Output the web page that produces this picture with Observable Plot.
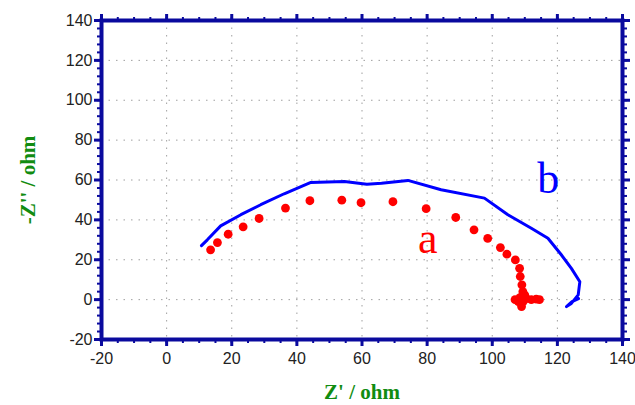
<!DOCTYPE html>
<html>
<head>
<meta charset="utf-8">
<script src="https://cdn.jsdelivr.net/npm/d3@7"></script>
<script src="https://cdn.jsdelivr.net/npm/@observablehq/plot@0.6"></script>
<style>
  html, body { margin: 0; padding: 0; background: #fff; }
</style>
</head>
<body>
<div id="chart"></div>
<script>
// Series a (red dots)
const aX = [13.5, 15.6, 18.9, 23.5, 28.4, 36.5, 44.0, 53.8, 59.7, 69.5, 79.7, 88.8, 94.4, 98.6, 102.5, 104.5, 107.1, 108.4, 108.6, 109.1, 109.4, 110.0, 107.0, 108.5, 109.5, 110.5, 112.0, 113.5, 114.5, 109.0, 108.0];
const aY = [25.0, 28.6, 32.8, 36.5, 40.7, 45.9, 49.6, 49.9, 48.6, 49.1, 45.6, 41.2, 35.0, 30.7, 26.1, 22.8, 19.9, 15.7, 11.6, 7.4, 4.0, 2.3, 0.0, 1.0, -1.0, 0.5, 0.0, 0.3, 0.0, -3.5, -1.0];
// Series b (blue line)
const bX = [10.7, 12.5, 16.6, 22.8, 28.9, 36.1, 44.3, 54.6, 61.5, 66.0, 74.1, 84.3, 97.6, 104.8, 112.0, 117.1, 121.2, 124.3, 126.9, 126.4, 124.3, 122.8, 124.5, 126.5, 125.0];
const bY = [27.1, 30.0, 37.0, 42.6, 47.6, 53.1, 58.8, 59.3, 57.9, 58.4, 59.8, 55.1, 50.9, 42.6, 35.8, 30.8, 22.5, 15.7, 9.0, 2.4, -1.9, -3.5, -1.0, 0.5, -0.5];

const xTicks = [-20, 0, 20, 40, 60, 80, 100, 120, 140];
const yTicks = [-20, 0, 20, 40, 60, 80, 100, 120, 140];
const xTickLabels = ["-20", "0", "20", "40", "60", "80", "100", "120", "140"];
const yTickLabels = ["-20", "0", "20", "40", "60", "80", "100", "120", "140"];
const xMinor = d3.range(-20, 141, 5);
const yMinor = d3.range(-20, 141, 4);
const xTitle = "Z' / ohm";
const yTitle = "-Z'' / ohm";
const seriesLabels = [{name: "a", x: 80.2, y: 30.7, color: "#ff0000"}, {name: "b", x: 117.2, y: 60.3, color: "#0000ff"}];

const a = aX.map((x, i) => ({x, y: aY[i]}));
const b = bX.map((x, i) => ({x, y: bY[i]}));

const navy = "#0a0a9e";
const green = "#118c11";
const serif = "'Liberation Serif', 'Times New Roman', serif";

const chart = Plot.plot({
  width: 635,
  height: 405,
  marginLeft: 101,
  marginRight: 13,
  marginTop: 20,
  marginBottom: 66,
  x: {domain: [-20, 140]},
  y: {domain: [-20, 140]},
  style: {fontFamily: "'Liberation Sans', Arial, sans-serif", fontSize: "16px", color: "#222", background: "#fff", overflow: "visible"},
  marks: [
    Plot.gridX(xTicks.slice(1, -1), {stroke: "#888", strokeOpacity: 0.8, strokeDasharray: "1.5,6"}),
    Plot.gridY(yTicks.slice(1, -1), {stroke: "#888", strokeOpacity: 0.8, strokeDasharray: "1.5,6"}),
    Plot.line(b, {x: "x", y: "y", stroke: "#0000ff", strokeWidth: 3, strokeLinejoin: "round", strokeLinecap: "round"}),
    Plot.dot(a, {x: "x", y: "y", r: 4.4, fill: "#ff0000"}),
    Plot.frame({stroke: navy, strokeWidth: 4}),
    // minor ticks
    Plot.axisX(xMinor, {anchor: "bottom", tickSize: 4, text: null, stroke: navy, strokeWidth: 2, label: null}),
    Plot.axisX(xMinor, {anchor: "top", tickSize: 4, text: null, stroke: navy, strokeWidth: 2, label: null}),
    Plot.axisY(yMinor, {anchor: "left", tickSize: 4, text: null, stroke: navy, strokeWidth: 2, label: null}),
    Plot.axisY(yMinor, {anchor: "right", tickSize: 4, text: null, stroke: navy, strokeWidth: 2, label: null}),
    // major ticks
    Plot.axisX(xTicks, {anchor: "bottom", tickSize: 7, tickPadding: 6, stroke: navy, strokeWidth: 3, fill: "#222", label: null, tickFormat: (d) => xTickLabels[xTicks.indexOf(d)]}),
    Plot.axisX(xTicks, {anchor: "top", tickSize: 7, text: null, stroke: navy, strokeWidth: 3, label: null}),
    Plot.axisY(yTicks, {anchor: "left", tickSize: 7, tickPadding: 2, stroke: navy, strokeWidth: 3, fill: "#222", label: null, tickFormat: (d) => yTickLabels[yTicks.indexOf(d)]}),
    Plot.axisY(yTicks, {anchor: "right", tickSize: 7, text: null, stroke: navy, strokeWidth: 3, label: null}),
    // series labels
    Plot.text(seriesLabels, {x: "x", y: "y", text: "name", fill: "color", fontSize: 44, fontFamily: serif, textAnchor: "middle", lineAnchor: "middle"}),
    // axis titles
    Plot.text([xTitle], {frameAnchor: "bottom", text: (d) => d, dy: 53, fill: green, fontSize: 21, fontWeight: "bold", fontFamily: serif, textAnchor: "middle", lineAnchor: "middle"}),
    Plot.text([yTitle], {frameAnchor: "left", text: (d) => d, dx: -73, rotate: -90, fill: green, fontSize: 21, fontWeight: "bold", fontFamily: serif, textAnchor: "middle", lineAnchor: "middle"})
  ]
});

document.getElementById("chart").appendChild(chart);
</script>
</body>
</html>
